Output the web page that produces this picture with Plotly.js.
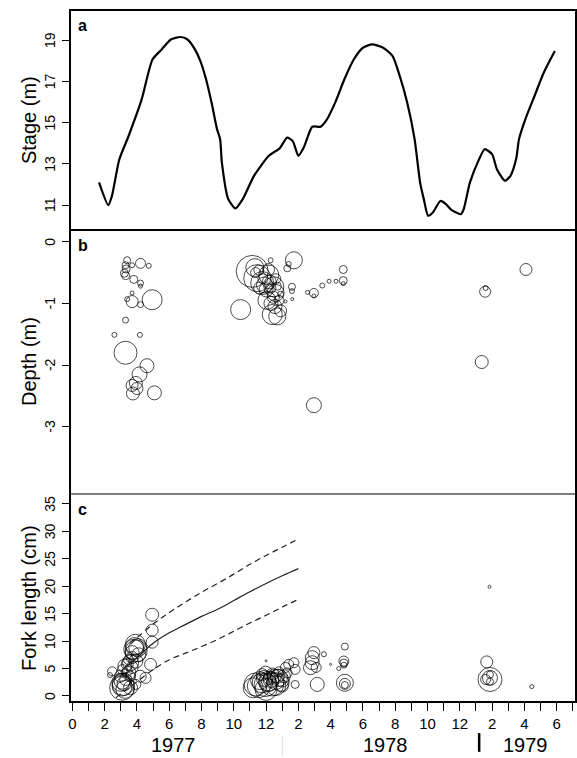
<!DOCTYPE html>
<html>
<head>
<meta charset="utf-8">
<script src="https://cdn.plot.ly/plotly-3.0.1.min.js"></script>
<style>html,body{margin:0;padding:0;background:#fff;}#chart{width:577px;height:758px;}</style>
</head>
<body>
<div id="chart"></div>
<script>
// ---- Panel a: river stage (m) vs month index (0 = start of 1977)
var stageT = [1.65,2.22,2.45,2.9,3.48,4.28,4.96,5.53,6.1,6.68,7.13,7.59,7.93,8.28,8.62,8.96,9.15,9.26,9.65,10.1,10.56,11.25,12.17,12.85,13.3,13.65,14.0,14.34,14.86,15.37,15.71,16.28,16.85,17.43,18.0,18.57,19.25,19.83,20.28,20.74,21.2,21.54,21.77,22.04,22.34,22.8,23.14,23.48,24.06,24.24,24.63,25.2,25.54,26.0,26.3,26.8,27.14,27.49,27.67,28.06,28.63,29.2,29.89];
var stageV = [12.1,11.0,11.45,13.2,14.35,16.1,18.06,18.55,19.03,19.15,19.03,18.55,17.98,17.1,15.97,14.68,14.2,13.06,11.3,10.84,11.3,12.42,13.39,13.76,14.27,14.1,13.39,13.8,14.8,14.8,15.08,15.97,17.1,18.06,18.63,18.79,18.63,18.23,17.26,15.97,14.2,12.1,11.29,10.48,10.65,11.2,11.05,10.77,10.56,10.8,12.1,13.23,13.71,13.47,12.74,12.18,12.42,13.23,14.2,15.16,16.29,17.42,18.47];

// ---- Panel b: depth (m) of captures, circle size ~ abundance
var depthT = [3.39,3.29,3.33,3.22,3.3,3.7,4.22,4.73,3.8,4.22,4.22,3.7,3.39,3.7,4.22,4.94,3.29,2.6,4.18,3.29,4.62,4.16,3.93,3.7,3.75,5.08,4.0,
  10.42,11.14,11.45,11.76,12.17,12.48,12.59,11.55,11.35,11.8,12.28,12.0,12.3,12.45,12.7,12.38,12.69,12.9,13.72,13.31,13.4,13.6,13.6,13.62,13.2,12.9,14.57,14.96,14.96,15.48,15.9,16.33,16.78,16.78,16.78,14.96,
  11.9,12.2,12.05,12.6,11.6,12.3,12.8,12.15,11.3,12.55,
  25.36,25.57,25.6,28.1];
var depthV = [-0.30,-0.38,-0.44,-0.51,-0.55,-0.38,-0.35,-0.39,-0.61,-0.67,-0.72,-0.83,-0.93,-0.97,-1.02,-0.94,-1.27,-1.51,-1.51,-1.80,-2.01,-2.15,-2.29,-2.33,-2.46,-2.45,-2.38,
  -1.10,-0.48,-0.59,-0.67,-0.54,-0.73,-0.83,-0.46,-0.50,-0.60,-0.30,-0.78,-0.75,-0.90,-0.72,-1.18,-1.21,-1.12,-0.30,-0.43,-0.36,-0.73,-0.80,-0.93,-0.97,-0.85,-0.82,-0.83,-0.88,-0.71,-0.64,-0.64,-0.45,-0.63,-0.68,-2.65,
  -0.70,-0.65,-0.95,-0.60,-0.75,-1.00,-0.95,-0.45,-0.42,-1.05,
  -1.95,-0.81,-0.75,-0.45];
var depthN = [7,7,8,8,8,5,10,5,8,6,4,4,5,12,6,20,6,5,5,23,14,15,13,12,13,14,12,
  20,32,27,23,20,20,17,10,10,10,5,14,10,12,8,20,17,12,17,7,5,7,5,3,3,6,4,9,4,5,4,4,8,8,4,15,
  16,14,18,10,12,14,10,12,18,14,
  13,11,5,12];

// ---- Panel c: fork length (cm)
var flT = [2.46,2.33,2.98,3.08,3.08,3.08,3.2,3.25,3.25,3.1,3.48,3.6,3.7,3.8,3.9,4.05,4.1,3.93,3.6,3.93,4.53,4.94,4.94,4.94,4.84,3.4,3.7,3.3,
  3.15,3.0,3.5,3.4,3.7,3.95,3.85,4.2,3.6,
  11.35,11.55,11.76,11.97,12.17,12.38,12.59,12.8,12.9,11.97,11.76,13.1,13.2,13.4,13.72,13.8,13.8,12.5,12.2,12.0,16.0,
  11.2,11.6,12.0,12.3,12.6,12.7,13.0,12.1,11.9,12.4,12.8,13.3,13.0,
  14.86,14.86,14.96,14.75,15.1,15.17,15.58,
  16.88,16.82,16.82,16.82,16.5,16.88,16.88,16.88,
  25.67,25.87,25.87,25.6,25.87,25.87,25.84,28.46];
var flV = [4.5,3.8,3.6,2.7,1.8,1.5,2.2,1.2,5.45,4.8,6.6,6.06,7.9,8.5,9.4,8.8,7.5,6.36,3.6,2.1,3.3,14.8,12.0,9.8,5.75,4.5,5.2,3.0,
  2.1,2.5,4.2,5.8,7.0,8.2,9.0,3.6,1.5,
  2.1,1.8,2.4,2.0,2.7,2.1,2.7,3.3,2.4,4.25,3.9,3.6,5.2,5.75,6.06,4.85,2.1,3.6,3.2,6.4,5.75,
  1.5,2.8,1.2,3.0,1.9,3.6,2.9,2.4,3.2,4.0,4.4,4.2,1.8,
  6.06,6.97,7.9,5.15,5.2,2.1,7.6,
  9.0,6.36,6.0,5.6,5.0,2.4,2.2,2.0,
  6.2,3.0,3.3,3.0,3.9,2.6,19.9,1.7];
var flN = [9,5,12,16,20,25,14,18,14,10,10,16,14,20,20,18,14,14,10,10,11,13,12,12,12,10,12,12,
  22,18,14,12,12,22,18,12,14,
  23,23,20,23,20,23,17,17,17,13,12,13,10,10,10,10,8,14,12,2,2,
  20,18,22,16,20,14,14,18,16,12,10,10,12,
  14,14,12,14,10,14,5,
  7,10,8,6,4,17,11,7,
  12,24,15,10,7,7,3,4];

// ---- Growth curve and limits
var fitT = [3.0,4,5,6,7,8,9,10,11,12,13,14];
var fitV = [4.5,7.0,9.6,11.5,13.0,14.5,15.8,17.4,19.0,20.5,21.9,23.2];
var upT = [3.6,4,5,6,7,8,9,10,11,12,13,14];
var upV = [9.4,10.6,13.1,15.2,17.1,18.9,20.5,22.2,24.0,25.6,27.1,28.6];
var loT = [2.7,3,4,5,6,7,8,9,10,11,12,13,14];
var loV = [-0.3,0.4,2.6,4.8,6.6,7.8,9.0,10.3,11.8,13.3,14.7,16.2,17.6];

// ---- Axis labels
var monthTicks = [];
var monthText = [];
for (var m = 0; m <= 31; m++) {
  monthTicks.push(m);
  var lab = m <= 12 ? m : (m <= 24 ? m - 12 : m - 24);
  monthText.push(m % 2 === 0 ? String(lab) : '');
}
var years = ['1977', '1978', '1979'];
var yearPos = [6.26, 19.4, 28.05];
var stageTicks = [11, 13, 15, 17, 19];
var depthTicks = [0, -1, -2, -3];
var flTicks = [0, 5, 10, 15, 20, 25, 30, 35];
var yTitles = ['Stage (m)', 'Depth (m)', 'Fork length (cm)'];

var F = 'Liberation Sans, Arial, Helvetica, sans-serif';
var circ = function (x, y, s, ya) {
  return {x: x, y: y, yaxis: ya, type: 'scatter', mode: 'markers',
    marker: {symbol: 'circle-open', size: s, color: '#000', line: {width: 1, color: '#000'}},
    hoverinfo: 'skip'};
};

var traces = [
  {x: stageT, y: stageV, yaxis: 'y', type: 'scatter', mode: 'lines',
   line: {color: '#000', width: 2.2, shape: 'spline', smoothing: 0.6}, hoverinfo: 'skip'},
  circ(depthT, depthV, depthN, 'y2'),
  circ(flT, flV, flN, 'y3'),
  {x: fitT, y: fitV, yaxis: 'y3', type: 'scatter', mode: 'lines', line: {color: '#222', width: 1.2, shape: 'spline'}, hoverinfo: 'skip'},
  {x: upT, y: upV, yaxis: 'y3', type: 'scatter', mode: 'lines', line: {color: '#222', width: 1.2, dash: '6px,4px', shape: 'spline'}, hoverinfo: 'skip'},
  {x: loT, y: loV, yaxis: 'y3', type: 'scatter', mode: 'lines', line: {color: '#222', width: 1.2, dash: '6px,4px', shape: 'spline'}, hoverinfo: 'skip'}
];

var yCommon = {ticks: 'outside', ticklen: 7, tickwidth: 1, tickcolor: '#000', showticklabels: false,
  showgrid: false, zeroline: false, showline: false};
function yax(extra) { return Object.assign({}, yCommon, extra); }

var dA = 0.682, dB = 0.3006;
var labX = (50 - 70) / 506;   // rotated tick label column
var titX = (29 - 70) / 506;   // rotated axis title column
var annotations = [
  {text: '<b>a</b>', xref: 'paper', yref: 'paper', x: 0.012, y: 0.993, xanchor: 'left', yanchor: 'top', showarrow: false, font: {size: 16, family: F, color: '#000'}},
  {text: '<b>b</b>', xref: 'paper', yref: 'paper', x: 0.012, y: dA - 0.007, xanchor: 'left', yanchor: 'top', showarrow: false, font: {size: 16, family: F, color: '#000'}},
  {text: '<b>c</b>', xref: 'paper', yref: 'paper', x: 0.012, y: dB - 0.007, xanchor: 'left', yanchor: 'top', showarrow: false, font: {size: 16, family: F, color: '#000'}}
];
function tickLabels(vals, yref) {
  vals.forEach(function (v) {
    annotations.push({text: String(v), xref: 'paper', yref: yref, x: labX, y: v, xanchor: 'center', yanchor: 'middle',
      textangle: -90, showarrow: false, font: {size: 14, family: F, color: '#000'}});
  });
}
tickLabels(stageTicks, 'y');
tickLabels(depthTicks, 'y2');
tickLabels(flTicks, 'y3');
var titleY = [(dA + 1) / 2, (dB + dA) / 2, dB / 2];
for (var k = 0; k < 3; k++) {
  annotations.push({text: yTitles[k], xref: 'paper', yref: 'paper', x: titX, y: titleY[k], xanchor: 'center', yanchor: 'middle',
    textangle: -90, showarrow: false, font: {size: 20, family: F, color: '#000'}});
}
for (var i = 0; i < years.length; i++) {
  annotations.push({text: years[i], xref: 'x', yref: 'paper', x: yearPos[i], y: -0.062, xanchor: 'center', yanchor: 'middle',
    showarrow: false, font: {size: 20, family: F, color: '#000'}});
}

var layout = {
  width: 577, height: 758,
  margin: {l: 70, r: 1, t: 10, b: 56},
  paper_bgcolor: '#fff', plot_bgcolor: '#fff',
  showlegend: false,
  font: {family: F, color: '#000'},
  xaxis: {anchor: 'y3', range: [-0.15, 31.2], tickmode: 'array', tickvals: monthTicks, ticktext: monthText,
    ticks: 'outside', ticklen: 8, tickwidth: 1, tickcolor: '#000', showgrid: false, zeroline: false, showline: false,
    tickangle: 0, tickfont: {size: 15, color: '#000', family: F}},
  yaxis: yax({domain: [dA, 1], range: [9.79, 20.46], tickmode: 'array', tickvals: stageTicks}),
  yaxis2: yax({domain: [dB, dA], range: [-4.09, 0.19], tickmode: 'array', tickvals: depthTicks}),
  yaxis3: yax({domain: [0, dB], range: [-1.1, 36.8], tickmode: 'array', tickvals: flTicks}),
  shapes: [
    {type: 'rect', xref: 'paper', yref: 'paper', x0: 0, x1: 1, y0: 0, y1: 1, line: {color: '#000', width: 2}},
    {type: 'line', xref: 'paper', yref: 'paper', x0: 0, x1: 1, y0: dA, y1: dA, line: {color: '#000', width: 2}},
    {type: 'line', xref: 'paper', yref: 'paper', x0: 0, x1: 1, y0: dB, y1: dB, line: {color: '#000', width: 1}},
    {type: 'line', xref: 'x', yref: 'paper', x0: 13.0, x1: 13.0, y0: -0.048, y1: -0.078, line: {color: '#ddd', width: 1}},
    {type: 'line', xref: 'x', yref: 'paper', x0: 25.2, x1: 25.2, y0: -0.045, y1: -0.072, line: {color: '#000', width: 2.5}}
  ],
  annotations: annotations
};

Plotly.newPlot('chart', traces, layout, {staticPlot: true, displayModeBar: false});
</script>
</body>
</html>
